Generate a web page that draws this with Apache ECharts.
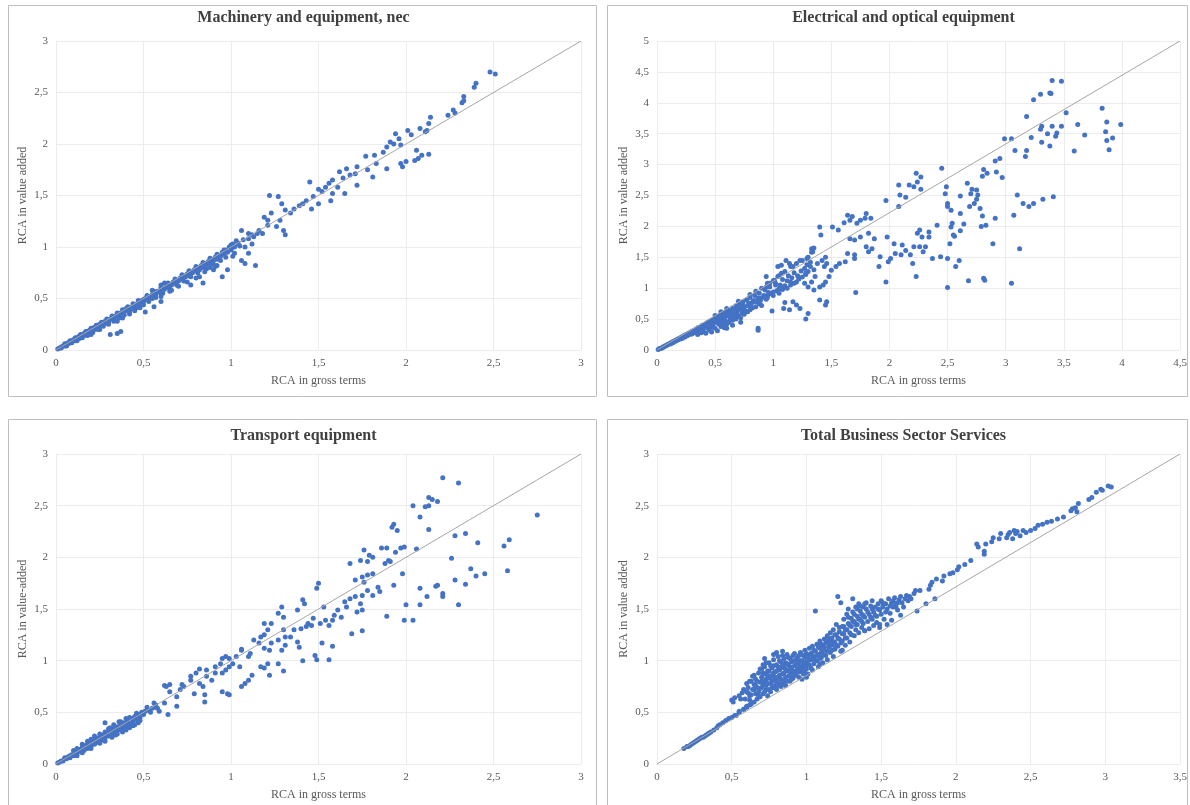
<!DOCTYPE html>
<html>
<head>
<meta charset="utf-8">
<script src="https://cdn.jsdelivr.net/npm/echarts@6/dist/echarts.min.js"></script>
<style>
  html, body { margin: 0; padding: 0; background: #fff; }
  #chart { width: 1190px; height: 805px; }
</style>
</head>
<body>
<div id="chart"></div>
<script>
// RCA in gross terms (x) vs RCA in value added (y)
const machinery = [
  [0.01,0.01],[0.02,0.02],[0.03,0.02],[0.03,0.03],[0.04,0.04],[0.05,0.04],[0.05,0.05],[0.06,0.05],[0.06,0.06],[0.07,0.06],
  [0.07,0.07],[0.08,0.07],[0.08,0.08],[0.09,0.08],[0.09,0.09],[0.10,0.09],[0.10,0.10],[0.11,0.09],[0.11,0.11],[0.12,0.10],
  [0.12,0.12],[0.13,0.11],[0.13,0.13],[0.14,0.12],[0.14,0.14],[0.15,0.13],[0.15,0.15],[0.16,0.14],[0.16,0.16],[0.17,0.15],
  [0.17,0.17],[0.18,0.16],[0.18,0.18],[0.19,0.17],[0.19,0.19],[0.20,0.18],[0.20,0.20],[0.21,0.19],[0.21,0.21],[0.22,0.20],
  [0.22,0.22],[0.23,0.21],[0.23,0.23],[0.24,0.22],[0.24,0.24],[0.25,0.23],[0.25,0.25],[0.26,0.24],[0.27,0.26],[0.28,0.26],
  [0.28,0.28],[0.29,0.27],[0.30,0.29],[0.30,0.27],[0.31,0.30],[0.32,0.30],[0.33,0.32],[0.33,0.30],[0.34,0.33],[0.35,0.33],
  [0.36,0.35],[0.36,0.33],[0.37,0.36],[0.38,0.36],[0.39,0.38],[0.40,0.38],[0.40,0.40],[0.41,0.39],[0.42,0.41],[0.43,0.40],
  [0.44,0.43],[0.45,0.42],[0.45,0.44],[0.46,0.44],[0.47,0.46],[0.48,0.45],[0.49,0.48],[0.50,0.47],[0.50,0.49],[0.51,0.50],
  [0.52,0.49],[0.53,0.52],[0.54,0.51],[0.55,0.54],[0.55,0.50],[0.56,0.55],[0.57,0.54],[0.58,0.57],[0.59,0.56],[0.60,0.59],
  [0.60,0.55],[0.61,0.60],[0.62,0.59],[0.63,0.62],[0.64,0.61],[0.65,0.64],[0.66,0.63],[0.67,0.66],[0.68,0.65],[0.69,0.68],
  [0.70,0.67],[0.71,0.70],[0.72,0.69],[0.73,0.72],[0.74,0.71],[0.75,0.74],[0.76,0.72],[0.77,0.76],[0.78,0.75],[0.79,0.78],
  [0.80,0.77],[0.81,0.80],[0.82,0.78],[0.83,0.82],[0.84,0.80],[0.85,0.84],[0.86,0.83],[0.87,0.86],[0.88,0.84],[0.89,0.88],
  [0.90,0.87],[0.91,0.90],[0.92,0.88],[0.93,0.92],[0.94,0.91],[0.95,0.95],[0.96,0.93],[0.97,0.97],[0.98,0.95],[0.99,1.00],
  [1.00,0.98],[1.01,1.03],[1.02,1.00],[1.04,1.04],[1.05,1.01],[1.07,1.07],[1.10,1.08],[1.12,1.12],[1.15,1.13],
  [0.05,0.06],[0.08,0.09],[0.11,0.12],[0.14,0.15],[0.17,0.18],[0.20,0.21],[0.23,0.24],[0.26,0.27],[0.29,0.30],[0.32,0.33],
  [0.35,0.36],[0.38,0.39],[0.41,0.42],[0.44,0.45],[0.47,0.48],[0.52,0.53],[0.56,0.57],[0.60,0.61],[0.64,0.65],[0.68,0.69],
  [0.72,0.73],[0.76,0.77],[0.80,0.81],[0.84,0.85],[0.88,0.89],[0.92,0.93],[0.96,0.97],[1.00,1.02],[1.03,1.06],
  [0.06,0.04],[0.09,0.07],[0.12,0.09],[0.15,0.12],[0.18,0.14],[0.21,0.17],[0.24,0.20],[0.27,0.23],[0.30,0.25],[0.33,0.28],
  [0.36,0.31],[0.39,0.34],[0.42,0.37],[0.46,0.41],[0.49,0.44],[0.53,0.47],[0.57,0.51],[0.61,0.55],[0.65,0.60],[0.69,0.63],
  [0.73,0.67],[0.77,0.71],[0.81,0.75],[0.86,0.79],[0.90,0.83],[0.94,0.87],[0.97,0.90],[1.02,0.94],
  [0.55,0.58],[0.60,0.63],[0.62,0.65],[0.42,0.35],[0.45,0.38],[0.48,0.41],[0.50,0.44],[0.44,0.40],[0.38,0.31],[0.25,0.20],
  [0.20,0.15],[0.35,0.28],[0.60,0.52],[0.65,0.57],[0.70,0.62],[0.80,0.70],[0.75,0.66],[0.85,0.76],[0.90,0.78],[0.92,0.82],
  [0.88,0.80],[0.95,0.71],[0.91,0.81],[0.84,0.65],[0.82,0.71],[0.77,0.63],[0.66,0.58],[0.60,0.47],[0.56,0.42],[0.51,0.37],
  [0.37,0.18],[0.35,0.16],[0.31,0.15],[0.98,0.78],[1.08,0.84],[1.14,0.82],[1.06,0.87],[1.01,0.91],[1.00,0.97],[1.10,0.94],
  [1.04,1.03],[1.08,1.00],[1.06,1.16],[1.12,1.03],[1.10,1.13],[1.16,1.16],[1.13,1.10],[1.18,1.13],[1.19,1.29],[1.21,1.26],
  [1.21,1.21],[1.22,1.50],[1.27,1.49],[1.29,1.42],[1.23,1.33],[1.28,1.26],[1.26,1.20],[1.30,1.16],[1.31,1.12],[1.31,1.36],
  [1.34,1.33],[1.36,1.37],[1.39,1.40],[1.41,1.42],[1.43,1.45],[1.46,1.37],[1.50,1.42],[1.47,1.49],[1.45,1.63],[1.50,1.56],
  [1.52,1.54],[1.54,1.58],[1.56,1.62],[1.58,1.65],[1.57,1.45],[1.58,1.52],[1.61,1.58],[1.65,1.52],[1.62,1.73],[1.64,1.67],
  [1.66,1.76],[1.68,1.70],[1.71,1.71],[1.72,1.60],[1.72,1.78],[1.78,1.75],[1.81,1.68],[1.77,1.88],[1.82,1.89],[1.83,1.81],
  [1.89,1.76],[1.87,1.92],[1.89,1.97],[1.93,2.00],[1.97,1.99],[1.91,2.02],[1.96,2.05],[1.94,2.10],[2.01,2.13],[2.03,2.09],
  [2.08,2.15],[1.97,1.81],[1.98,1.78],[2.00,1.83],[2.05,1.84],[2.07,1.86],[2.06,1.94],[2.09,1.89],[2.13,1.90],[2.11,2.12],
  [2.12,2.13],[2.13,2.20],[2.14,2.26],[2.24,2.28],[2.27,2.33],[2.28,2.30],[2.32,2.40],[2.33,2.42],[2.33,2.46],[2.39,2.55],
  [2.40,2.59],[2.48,2.70],[2.51,2.68]
];

const electrical = [
  [0.01,0.01],[0.02,0.02],[0.03,0.03],[0.04,0.03],[0.05,0.05],[0.06,0.05],[0.07,0.07],[0.08,0.07],[0.09,0.09],[0.10,0.09],
  [0.11,0.11],[0.12,0.10],[0.13,0.13],[0.14,0.12],[0.15,0.15],[0.16,0.14],[0.17,0.17],[0.18,0.16],[0.19,0.19],[0.20,0.18],
  [0.21,0.21],[0.22,0.19],[0.23,0.23],[0.24,0.21],[0.25,0.25],[0.26,0.23],[0.27,0.27],[0.28,0.25],[0.29,0.29],[0.30,0.26],
  [0.31,0.31],[0.32,0.28],[0.33,0.33],[0.34,0.30],[0.35,0.36],[0.36,0.32],[0.37,0.37],[0.38,0.33],[0.39,0.40],[0.40,0.36],
  [0.41,0.41],[0.42,0.37],[0.43,0.44],[0.44,0.39],[0.45,0.46],[0.46,0.41],[0.47,0.48],[0.48,0.42],[0.49,0.50],[0.50,0.45],
  [0.51,0.52],[0.52,0.47],[0.53,0.55],[0.54,0.49],[0.55,0.57],[0.56,0.50],[0.57,0.59],[0.58,0.52],[0.59,0.61],[0.60,0.55],
  [0.62,0.64],[0.63,0.57],[0.65,0.67],[0.66,0.60],[0.68,0.71],[0.69,0.63],[0.71,0.74],[0.72,0.66],[0.74,0.78],[0.75,0.69],
  [0.77,0.81],[0.78,0.72],[0.80,0.85],[0.82,0.77],[0.84,0.88],[0.86,0.80],[0.88,0.92],[0.90,0.84],[0.93,0.97],[0.95,0.88],
  [0.97,1.02],[1.00,0.94],[1.02,1.08],[1.05,0.99],[1.08,1.14],[1.10,1.04],[1.13,1.20],[1.15,1.10],[1.18,1.25],
  [0.30,0.30],[0.33,0.29],[0.36,0.35],[0.39,0.34],[0.42,0.40],[0.44,0.35],[0.46,0.45],[0.48,0.37],[0.51,0.48],[0.53,0.42],
  [0.54,0.53],[0.56,0.45],[0.58,0.55],[0.59,0.47],[0.61,0.58],[0.63,0.50],[0.64,0.62],[0.66,0.53],[0.67,0.65],[0.69,0.57],
  [0.70,0.70],[0.73,0.60],[0.74,0.73],[0.76,0.63],[0.79,0.76],[0.81,0.70],[0.83,0.80],[0.87,0.84],[0.89,0.80],[0.92,0.88],
  [0.94,0.82],[0.96,0.93],[0.98,0.91],[1.03,0.96],[1.06,1.05],[1.09,1.01],[1.12,1.12],[1.16,1.17],[1.18,1.08],[1.21,1.20],
  [1.24,1.28],[1.27,1.32],[1.29,1.38],[1.32,1.42],[1.35,1.30],[1.38,1.40],[1.42,1.45],[1.45,1.50],
  [0.35,0.25],[0.38,0.28],[0.40,0.30],[0.42,0.27],[0.45,0.32],[0.47,0.29],[0.50,0.35],[0.52,0.31],[0.55,0.38],[0.57,0.40],
  [0.60,0.42],[0.62,0.45],[0.58,0.36],[0.65,0.48],[0.68,0.50],[0.70,0.55],[0.72,0.52],[0.75,0.58],[0.78,0.62],[0.80,0.65],
  [0.82,0.68],[0.85,0.70],[0.88,0.75],[0.90,0.72],[0.45,0.38],[0.48,0.40],[0.55,0.44],[0.65,0.55],[0.75,0.65],[0.85,0.78],
  [0.95,0.85],[1.00,0.88],[1.05,0.92],[1.08,0.98],[1.12,1.00],[1.15,1.05],[1.20,1.10],[1.22,1.15],[1.25,1.18],[1.28,1.22],
  [1.30,1.27],[0.72,0.45],[0.65,0.40],[0.60,0.35],[0.50,0.56],[0.55,0.62],[0.60,0.67],[0.70,0.79],[0.80,0.90],[0.90,1.00],
  [0.95,1.08],[1.00,1.12],[1.05,1.20],[1.10,1.27],[1.15,1.35],[1.20,1.40],[1.25,1.45],[1.30,1.50],[1.33,1.58],[1.35,1.65],
  [0.85,0.95],[0.87,0.35],[0.87,0.32],[0.99,0.63],[1.09,0.67],[1.10,0.77],[1.14,0.65],[1.17,0.78],[1.23,0.67],[1.20,0.73],
  [1.28,0.50],[1.30,0.59],[1.11,1.45],[1.14,1.40],[1.17,1.35],[1.07,1.24],[1.04,1.19],[1.01,1.13],[0.97,1.08],[0.94,1.02],
  [1.02,1.05],[0.94,1.19],[1.04,1.35],[1.07,1.37],[1.40,1.99],[1.41,1.86],[1.33,1.64],[1.34,1.59],[1.29,1.48],[1.23,1.45],
  [1.32,1.35],[1.28,1.24],[1.36,1.19],[1.33,1.10],[1.30,1.02],[1.27,1.08],[1.40,1.02],[1.35,0.97],[1.46,0.78],[1.45,0.73],
  [1.40,0.81],[1.64,1.56],[1.70,1.54],[1.70,1.48],[1.62,1.43],[1.57,1.40],[1.54,1.35],[1.50,1.29],[1.46,1.40],[1.44,1.35],
  [1.48,1.19],[1.71,0.93],[1.45,1.10],[1.43,1.05],[1.80,2.21],[1.84,2.13],[1.79,2.13],[1.75,2.10],[1.72,2.05],[1.68,2.16],
  [1.64,2.18],[1.66,2.10],[1.61,2.06],[1.56,1.94],[1.51,1.99],[1.82,1.89],[1.75,1.83],[1.87,1.80],[1.85,1.64],[1.82,1.59],
  [1.80,1.67],[1.70,1.78],[1.66,1.80],[2.11,1.70],[2.14,1.61],[2.10,1.54],[2.05,1.56],[2.01,1.48],[1.99,1.43],[1.98,1.83],
  [2.04,1.72],[2.18,1.54],[1.97,1.10],[1.92,1.51],[1.91,1.35],[2.23,2.86],[2.27,2.80],[2.24,2.72],[2.27,2.60],[2.21,2.64],
  [2.17,2.67],[2.08,2.67],[2.09,2.51],[2.14,2.47],[2.08,2.32],[1.97,2.42],[2.26,1.94],[2.24,1.89],[2.28,1.83],[2.34,1.91],
  [2.34,1.83],[2.21,1.67],[2.26,1.67],[2.31,1.67],[2.20,1.40],[2.29,1.59],[2.23,1.19],[2.45,2.94],[2.49,2.64],[2.48,2.53],
  [2.50,2.37],[2.50,2.32],[2.53,2.26],[2.61,2.49],[2.61,2.21],[2.64,2.04],[2.61,1.93],[2.54,2.05],[2.53,1.99],[2.55,1.86],
  [2.56,1.84],[2.52,1.72],[2.60,1.45],[2.57,1.35],[2.50,1.48],[2.50,1.01],[2.44,1.51],[2.41,2.02],[2.37,1.48],[2.68,1.12],
  [2.81,1.16],[2.82,1.13],[3.05,1.08],[3.12,1.64],[2.67,2.70],[2.71,2.60],[2.75,2.59],[2.70,2.53],[2.75,2.44],[2.76,2.51],
  [2.73,2.37],[2.69,2.32],[2.78,2.29],[2.80,2.17],[2.79,2.00],[2.83,2.02],[2.91,2.13],[2.89,1.72],[2.81,2.92],[2.84,2.86],
  [2.80,2.81],[2.95,3.10],[2.91,3.06],[2.92,2.88],[2.97,2.79],[3.10,2.51],[3.15,2.37],[3.20,2.32],[3.24,2.37],[3.32,2.44],
  [3.41,2.48],[3.07,2.18],[2.99,3.42],[3.05,3.42],[3.31,3.36],[3.38,3.30],[3.08,3.23],[3.18,3.23],[3.17,3.13],[3.59,3.22],
  [3.89,3.24],[3.22,3.44],[3.36,3.50],[3.44,3.51],[3.43,3.46],[3.68,3.48],[3.92,3.43],[3.87,3.39],[3.31,3.62],[3.30,3.57],
  [3.40,3.62],[3.48,3.62],[3.62,3.65],[3.99,3.65],[3.87,3.69],[3.86,3.53],[3.52,3.84],[3.18,3.78],[3.83,3.91],[3.30,4.14],
  [3.24,4.05],[3.38,4.16],[3.39,4.15],[3.40,4.36],[3.48,4.35]
];

const transport = [
  [0.01,0.01],[0.02,0.02],[0.03,0.03],[0.04,0.03],[0.05,0.05],[0.06,0.05],[0.07,0.07],[0.08,0.06],[0.09,0.09],[0.10,0.08],
  [0.11,0.11],[0.12,0.10],[0.13,0.14],[0.14,0.12],[0.15,0.16],[0.16,0.13],[0.17,0.18],[0.18,0.15],[0.19,0.20],[0.20,0.17],
  [0.21,0.22],[0.22,0.19],[0.23,0.24],[0.24,0.21],[0.25,0.26],[0.26,0.23],[0.27,0.28],[0.28,0.25],[0.29,0.30],[0.30,0.27],
  [0.31,0.32],[0.32,0.29],[0.33,0.34],[0.34,0.31],[0.35,0.36],[0.36,0.33],[0.37,0.38],[0.38,0.35],[0.39,0.40],[0.40,0.37],
  [0.41,0.42],[0.42,0.39],[0.43,0.44],[0.44,0.41],[0.45,0.46],[0.46,0.43],[0.47,0.48],[0.48,0.45],[0.49,0.50],[0.50,0.48],
  [0.51,0.51],[0.53,0.52],[0.55,0.54],[0.57,0.55],[0.10,0.13],[0.12,0.15],[0.15,0.19],[0.18,0.22],[0.20,0.24],[0.22,0.27],
  [0.25,0.29],[0.28,0.31],[0.30,0.34],[0.33,0.38],[0.36,0.41],[0.40,0.44],[0.12,0.08],[0.15,0.11],[0.20,0.15],[0.25,0.20],
  [0.28,0.22],[0.32,0.26],[0.35,0.29],[0.38,0.31],[0.42,0.35],[0.45,0.38],[0.47,0.40],[0.40,0.33],[0.43,0.39],[0.28,0.40],
  [0.32,0.30],[0.18,0.19],[0.22,0.23],
  [0.05,0.06],[0.08,0.08],[0.11,0.10],[0.14,0.14],[0.17,0.16],[0.20,0.20],[0.23,0.22],[0.26,0.26],[0.29,0.28],[0.32,0.32],
  [0.35,0.34],[0.38,0.38],[0.41,0.40],[0.44,0.44],[0.47,0.46],[0.50,0.50],[0.24,0.25],[0.27,0.24],[0.31,0.35],[0.34,0.28],
  [0.37,0.41],[0.39,0.36],[0.42,0.45],[0.44,0.37],[0.46,0.49],[0.48,0.42],[0.52,0.55],[0.54,0.50],
  [0.62,0.76],[0.65,0.77],[0.72,0.77],[0.77,0.81],[0.80,0.88],[0.82,0.92],[0.86,0.91],
  [0.91,0.94],[0.94,0.97],[0.95,1.02],[0.97,1.04],[0.99,1.02],[1.06,1.11],[0.56,0.59],[0.58,0.54],[0.59,0.51],[0.57,0.57],
  [0.91,0.88],[0.89,0.81],[0.86,0.85],[0.84,0.75],[0.85,0.67],[0.85,0.60],[0.82,0.78],[0.77,0.85],[0.79,0.68],[0.73,0.75],
  [0.71,0.72],[0.69,0.65],[0.65,0.70],[0.63,0.75],[0.69,0.56],[0.64,0.48],[0.62,0.59],[1.11,1.07],[1.10,1.04],[1.06,1.10],
  [1.03,1.04],[1.01,0.97],[0.99,0.94],[0.97,0.91],[0.95,0.88],[1.05,0.94],[1.12,0.86],[1.10,0.81],[1.08,0.78],[1.06,0.75],
  [0.99,0.67],[0.98,0.68],[0.95,0.70],[1.19,1.36],[1.21,1.30],[1.19,1.25],[1.17,1.23],[1.16,1.17],[1.13,1.20],[1.19,1.12],
  [1.23,1.17],[1.22,1.10],[1.21,0.97],[1.19,0.93],[1.22,0.86],[1.17,0.94],[1.30,1.42],[1.29,1.52],[1.27,1.46],[1.23,1.36],
  [1.30,1.30],[1.31,1.23],[1.27,1.20],[1.31,1.15],[1.29,1.10],[1.30,0.90],[1.27,0.97],[1.41,1.59],[1.42,1.55],[1.38,1.49],
  [1.44,1.36],[1.46,1.34],[1.43,1.33],[1.40,1.31],[1.36,1.30],[1.34,1.23],[1.52,1.17],[1.58,1.14],[1.56,1.01],[1.48,1.05],
  [1.49,1.01],[1.41,1.00],[1.39,1.13],[1.38,1.18],[1.61,1.49],[1.59,1.44],[1.58,1.39],[1.63,1.42],[1.56,1.34],[1.54,1.39],
  [1.51,1.36],[1.47,1.41],[1.53,1.52],[1.50,1.75],[1.49,1.70],[1.74,1.55],[1.75,1.49],[1.72,1.47],[1.68,1.60],[1.65,1.57],
  [1.66,1.52],[1.69,1.26],[1.75,1.29],[1.89,1.43],[1.99,1.39],[2.04,1.39],[2.21,1.65],[2.21,1.62],[2.12,1.62],[2.00,1.54],
  [2.08,1.54],[2.30,1.54],[1.81,1.84],[1.78,1.83],[1.75,1.81],[1.71,1.78],[1.76,1.76],[1.84,1.71],[1.85,1.67],[1.81,1.63],
  [1.78,1.68],[1.75,1.63],[1.71,1.62],[1.93,1.73],[2.08,1.70],[2.28,1.78],[2.34,1.74],[2.17,1.72],[2.18,1.73],[2.26,1.99],
  [1.98,1.84],[2.45,1.84],[2.37,1.89],[2.40,1.82],[2.58,1.87],[1.90,1.97],[1.88,1.94],[1.91,1.96],[1.68,1.94],[1.76,2.07],
  [1.79,2.02],[1.74,1.97],[1.78,1.96],[1.81,2.00],[1.89,2.09],[1.86,2.09],[1.97,2.09],[1.99,2.10],[2.06,2.08],[1.94,2.05],
  [2.28,2.21],[2.34,2.23],[2.41,2.14],[2.59,2.17],[2.56,2.11],[1.93,2.32],[1.92,2.29],[1.95,2.26],[2.08,2.39],[2.13,2.27],
  [2.13,2.58],[2.15,2.56],[2.18,2.54],[2.04,2.50],[2.11,2.49],[2.13,2.50],[2.75,2.41],[2.21,2.77],[2.30,2.72]
];

const services = [
  [0.18,0.15],[0.20,0.17],[0.21,0.17],[0.22,0.18],[0.23,0.19],[0.24,0.20],[0.25,0.21],[0.26,0.22],[0.27,0.23],[0.28,0.24],
  [0.29,0.25],[0.30,0.26],[0.31,0.26],[0.32,0.27],[0.33,0.28],[0.34,0.29],[0.35,0.30],[0.36,0.31],[0.38,0.33],[0.40,0.35],
  [0.41,0.37],[0.42,0.38],[0.44,0.40],[0.46,0.42],[0.48,0.44],[0.50,0.45],[0.52,0.47],[0.55,0.50],[0.58,0.53],[0.60,0.55],
  [0.62,0.57],[0.65,0.60],
  [0.50,0.62],[0.51,0.60],[0.52,0.64],[0.53,0.47],[0.55,0.66],[0.56,0.63],[0.55,0.51],[0.57,0.69],[0.58,0.53],[0.60,0.70],
  [0.60,0.78],[0.61,0.74],[0.62,0.66],[0.60,0.56],[0.62,0.62],[0.63,0.80],[0.63,0.58],[0.64,0.72],[0.64,0.85],[0.65,0.77],
  [0.66,0.68],[0.66,0.82],[0.67,0.63],[0.67,0.74],[0.68,0.88],[0.68,0.70],[0.69,0.79],[0.69,0.65],[0.70,0.92],[0.70,0.84],
  [0.70,0.74],[0.71,0.68],[0.71,0.96],[0.72,0.80],[0.72,0.87],[0.73,0.72],[0.73,0.76],[0.74,0.90],[0.74,0.66],[0.75,0.83],
  [0.75,0.98],[0.76,0.78],[0.76,0.70],[0.77,0.86],[0.77,0.93],[0.78,1.01],[0.78,0.74],[0.79,0.81],[0.79,0.89],[0.80,0.96],
  [0.80,0.72],[0.81,0.84],[0.81,1.04],[0.82,0.78],[0.82,0.91],[0.83,0.99],[0.83,0.75],[0.84,0.87],[0.84,1.05],[0.85,0.94],
  [0.85,0.80],[0.86,0.98],[0.86,0.76],[0.87,0.90],[0.87,1.06],[0.88,0.85],[0.88,0.96],[0.89,1.02],[0.89,0.80],[0.90,0.92],
  [0.90,0.88],[0.91,1.00],[0.91,0.83],[0.92,0.95],[0.92,1.07],[0.93,0.86],[0.93,0.90],[0.94,1.03],[0.94,0.97],[0.95,0.89],
  [0.95,0.84],[0.96,1.00],[0.96,1.08],[0.97,0.93],[0.97,0.82],[0.98,1.05],[0.98,0.96],[0.99,0.88],[0.99,1.10],[1.00,0.99],
  [1.00,0.92],[1.01,1.04],[1.01,0.87],[1.02,1.12],[1.02,0.96],[1.03,1.01],[1.03,1.07],[1.04,0.91],[1.04,1.14],[1.05,1.03],
  [1.05,0.97],[1.06,1.09],[1.06,1.48],[1.07,1.00],[1.07,1.16],[1.08,1.06],[1.08,0.94],[1.09,1.12],[1.09,1.19],[1.10,1.03],
  [1.10,1.08],[1.11,1.15],[1.11,0.98],[1.12,1.21],[1.12,1.10],[1.13,1.05],[1.13,1.17],[1.14,1.24],[1.14,1.01],[1.15,1.13],
  [1.15,1.19],[1.16,1.08],[1.16,1.27],[1.17,1.15],[1.17,1.22],[1.18,1.04],[1.18,1.30],[1.19,1.18],[1.19,1.11],[1.20,1.25],
  [1.20,1.35],[1.21,1.14],[1.21,1.62],[1.22,1.21],[1.22,1.28],[1.23,1.56],[1.23,1.09],[1.24,1.33],[1.24,1.19],[1.25,1.26],
  [1.25,1.40],[1.26,1.15],[1.26,1.30],[1.27,1.45],[1.27,1.22],[1.28,1.36],[1.28,1.50],[1.29,1.27],[1.29,1.18],[1.30,1.41],
  [1.30,1.33],[1.31,1.60],[1.31,1.47],[1.32,1.24],[1.32,1.38],[1.33,1.52],[1.33,1.30],[1.34,1.43],[1.34,1.35],[1.35,1.55],
  [1.35,1.27],[1.36,1.48],[1.36,1.40],[1.37,1.32],[1.37,1.45],[1.38,1.52],[1.38,1.36],[1.39,1.42],[1.39,1.29],[1.40,1.50],
  [1.40,1.56],[1.41,1.38],[1.42,1.45],[1.42,1.31],[1.43,1.53],[1.44,1.40],[1.44,1.58],[1.45,1.47],[1.45,1.34],[1.46,1.52],
  [1.47,1.43],[1.47,1.37],[1.48,1.55],[1.49,1.49],[1.49,1.32],[1.50,1.58],[1.50,1.45],[1.51,1.52],[1.52,1.40],[1.53,1.55],
  [1.54,1.50],[1.55,1.60],[1.56,1.46],[1.57,1.56],[1.58,1.52],[1.59,1.61],[1.60,1.55],[1.61,1.49],[1.62,1.59],[1.63,1.62],
  [1.64,1.56],[1.65,1.52],[1.66,1.60],[1.67,1.63],[1.68,1.58],[1.69,1.62],[1.70,1.60],[1.72,1.65],[1.74,1.48],[1.76,1.68],
  [0.58,0.72],[0.59,0.63],[0.61,0.69],[0.62,0.80],[0.63,0.67],[0.65,0.72],[0.65,0.86],[0.66,0.76],[0.67,0.80],[0.68,0.66],
  [0.69,0.92],[0.69,0.73],[0.70,0.80],[0.71,0.88],[0.71,0.77],[0.72,0.70],[0.72,0.94],[0.73,0.82],[0.73,0.98],[0.74,0.78],
  [0.74,0.86],[0.75,0.72],[0.75,0.90],[0.76,0.84],[0.76,0.95],[0.77,0.80],[0.77,0.74],[0.78,0.88],[0.78,0.95],[0.79,0.76],
  [0.79,0.84],[0.80,0.90],[0.80,0.80],[0.81,0.94],[0.81,0.76],[0.82,0.86],[0.82,1.00],[0.83,0.82],[0.83,0.93],[0.84,0.78],
  [0.84,0.96],[0.85,0.88],[0.85,1.02],[0.86,0.84],[0.86,0.92],[0.87,0.80],[0.87,0.97],[0.88,0.90],[0.88,1.03],[0.89,0.86],
  [0.89,0.94],[0.90,0.82],[0.90,0.99],[0.91,0.90],[0.91,1.05],[0.92,0.86],[0.93,0.96],[0.93,1.01],[0.94,0.92],[0.95,0.98],
  [0.95,1.05],[0.96,0.90],[0.96,0.94],[0.97,1.00],[0.98,0.89],[0.99,0.95],[0.99,1.03],[1.00,1.07],[1.01,0.96],[1.02,1.01],
  [1.03,0.93],[1.04,1.05],[1.05,1.10],[1.06,1.00],[1.07,1.05],[1.08,1.13],[1.09,1.02],[1.10,1.16],[1.11,1.06],[1.12,1.13],
  [1.13,1.20],[1.14,1.09],[1.15,1.16],[1.16,1.21],[1.17,1.10],[1.18,1.18],[1.19,1.25],[1.20,1.15],[1.21,1.22],[1.22,1.32],
  [1.23,1.17],[1.24,1.26],[1.25,1.33],[1.26,1.22],[1.27,1.30],[1.28,1.42],[1.29,1.34],[1.30,1.25],[1.31,1.38],[1.32,1.45],
  [1.33,1.35],[1.34,1.50],[1.35,1.40],[1.36,1.53],[1.37,1.38],[1.38,1.44],[1.39,1.55],[1.41,1.47],[1.43,1.42],[1.44,1.50],
  [1.46,1.44],[1.48,1.50],[1.51,1.56],[1.53,1.47],[1.56,1.53],[1.58,1.58],[1.61,1.56],
  [0.72,1.02],[0.78,1.06],[0.80,1.08],[0.84,1.09],[0.98,0.87],[1.00,0.84],[1.09,0.97],[1.24,1.10],[1.39,1.29],[1.49,1.35],
  [1.54,1.35],[1.57,1.39],[1.63,1.44],[1.60,1.52],[1.73,1.68],[1.80,1.55],[1.86,1.60],[1.82,1.69],[1.83,1.73],[1.84,1.76],
  [1.87,1.79],[1.91,1.77],[1.92,1.82],[1.96,1.84],[1.98,1.85],[2.01,1.88],[2.02,1.91],[2.06,1.93],[2.10,1.97],[2.14,2.13],
  [2.15,2.10],[2.19,2.06],[2.19,2.03],[2.20,2.13],[2.24,2.15],[2.25,2.19],[2.29,2.18],[2.30,2.23],[2.34,2.19],[2.35,2.22],
  [2.36,2.24],[2.38,2.18],[2.39,2.26],[2.40,2.23],[2.41,2.25],[2.43,2.21],[2.45,2.26],[2.47,2.24],[2.50,2.26],[2.53,2.28],
  [2.55,2.31],[2.58,2.32],[2.61,2.34],[2.64,2.35],[2.68,2.37],[2.72,2.39],[2.77,2.45],[2.81,2.44],[2.78,2.47],[2.80,2.48],
  [2.82,2.52],[2.89,2.56],[2.91,2.58],[2.94,2.63],[2.97,2.66],[2.98,2.65],[3.02,2.69],[3.04,2.68]
];

// reference lines drawn corner to corner of each plot
const diagMachinery = [[0,0],[3,3]];
const diagElectrical = [[0,0],[4.5,5]];
const diagTransport = [[0,0],[3,3]];
const diagServices = [[0,0],[3.5,3]];

const titles = ['Machinery and equipment, nec', 'Electrical and optical equipment', 'Transport equipment', 'Total Business Sector Services'];
const yNames = ['RCA in value added', 'RCA in value added', 'RCA in value-added', 'RCA in value added'];
const xMax = [3, 4.5, 3, 3.5];
const yMax = [3, 5, 3, 3];

const serif = '"Liberation Serif", "DejaVu Serif", serif';
const fmt = v => String(v).replace('.', ',');

const grids = [
  { left: 56, top: 41, width: 525, height: 309 },
  { left: 657, top: 41, width: 523, height: 309 },
  { left: 56, top: 454, width: 525, height: 310 },
  { left: 657, top: 454, width: 523, height: 310 }
];
const boxes = [
  { x: 8.5, y: 5.5, width: 588, height: 391 },
  { x: 607.5, y: 5.5, width: 580, height: 391 },
  { x: 8.5, y: 419.5, width: 588, height: 400 },
  { x: 607.5, y: 419.5, width: 580, height: 400 }
];

const axisCommon = {
  type: 'value',
  min: 0,
  interval: 0.5,
  axisLine: { show: false },
  axisTick: { show: false },
  axisLabel: { color: '#595959', fontFamily: serif, fontSize: 11, margin: 8, formatter: fmt },
  splitLine: { show: true, lineStyle: { color: '#ececec', width: 1 } },
  nameLocation: 'middle',
  nameTextStyle: { color: '#595959', fontFamily: serif, fontSize: 12 }
};

const xAxis = grids.map((g, i) => Object.assign({}, axisCommon, {
  gridIndex: i, max: xMax[i], name: 'RCA in gross terms', nameGap: 25
}));
const yAxis = grids.map((g, i) => Object.assign({}, axisCommon, {
  gridIndex: i, max: yMax[i], name: yNames[i], nameGap: 27
}));

const pointSets = [machinery, electrical, transport, services];
const diagSets = [diagMachinery, diagElectrical, diagTransport, diagServices];

const series = [];
pointSets.forEach((pts, i) => {
  series.push({
    type: 'scatter',
    xAxisIndex: i, yAxisIndex: i,
    data: pts,
    symbolSize: 5,
    itemStyle: { color: '#4472c4', opacity: 1 },
    silent: true
  });
  series.push({
    type: 'line',
    xAxisIndex: i, yAxisIndex: i,
    data: diagSets[i],
    showSymbol: false,
    symbol: 'none',
    lineStyle: { color: '#a6a6a6', width: 1 },
    silent: true,
    z: 3
  });
});

const title = titles.map((t, i) => ({
  text: t,
  left: grids[i].left + grids[i].width / 2 - 15,
  textAlign: 'center',
  top: i < 2 ? 10 : 428,
  padding: 0,
  textStyle: { fontFamily: serif, fontWeight: 'bold', fontSize: 16, color: '#404040' }
}));

const chart = echarts.init(document.getElementById('chart'), null, { renderer: 'canvas' });
chart.setOption({
  backgroundColor: '#ffffff',
  animation: false,
  title: title,
  grid: grids,
  xAxis: xAxis,
  yAxis: yAxis,
  series: series,
  graphic: boxes.map(b => ({
    type: 'rect',
    shape: b,
    style: { fill: 'none', stroke: '#bfbfbf', lineWidth: 1 },
    silent: true,
    z: -1
  }))
});
</script>
</body>
</html>
